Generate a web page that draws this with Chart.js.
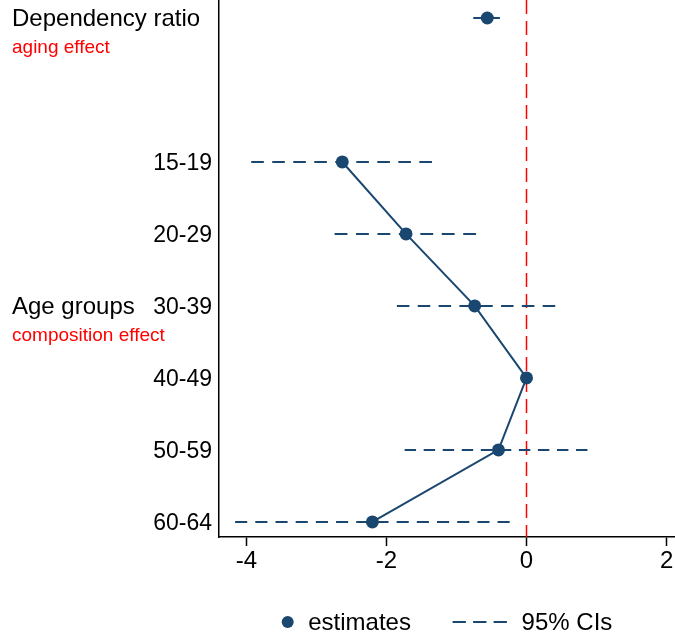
<!DOCTYPE html>
<html>
<head>
<meta charset="utf-8">
<script src="https://cdn.jsdelivr.net/npm/chart.js@4.4.0/dist/chart.umd.min.js"></script>
<style>
html, body { margin: 0; padding: 0; background: #fff; }
canvas { display: block; }
</style>
</head>
<body>
<canvas id="chart" width="675" height="637"></canvas>
<script>
// Age group rows (top to bottom)
const ageGroups = ['15-19', '20-29', '30-39', '40-49', '50-59', '60-64'];
const agePos = [6, 5, 4, 3, 2, 1];
const ageEst = [-2.63, -1.72, -0.74, 0, -0.40, -2.20];
const ageLow = [-3.93, -2.74, -1.85, null, -1.74, -4.16];
const ageHigh = [-1.35, -0.72, 0.41, null, 0.87, -0.24];

// Dependency ratio row
const depLabel = 'Dependency ratio';
const depNote = 'aging effect';
const depPos = 8;
const depEst = [-0.56];
const depLow = [-0.76];
const depHigh = [-0.38];

const groupLabel = 'Age groups';
const groupNote = 'composition effect';
const groupPos = 4;

const xTicks = [-4, -2, 0, 2];
const xMin = -4.39, xMax = 2.12;
const yMin = 0.79, yMax = 8.25;
const refX = 0;

const legendLabels = ['estimates', '95% CIs'];

const navy = '#1a476f';
const red = '#ff0000';
const FONT = "'Liberation Sans', Arial, sans-serif";

// CI rows, built from the arrays above
const ciRows = [{ pos: depPos, lo: depLow[0], hi: depHigh[0] }];
ageGroups.forEach((g, i) => {
    if (ageLow[i] !== null) ciRows.push({ pos: agePos[i], lo: ageLow[i], hi: ageHigh[i] });
});

// stretch the dash pattern a little so each CI line ends on a dash
function fitDash(ctx, lo, hi) {
    const x = ctx.chart.scales.x;
    if (!x) return [12, 8];
    const len = Math.abs(x.getPixelForValue(hi) - x.getPixelForValue(lo));
    const n = Math.max(0, Math.round(len / 20 - 0.6));
    const p = len / (n + 0.6);
    return [p * 0.6, p * 0.4];
}

const ciDatasets = ciRows.map(r => ({
    label: '95% CIs',
    data: [{ x: r.lo, y: r.pos }, { x: r.hi, y: r.pos }],
    showLine: true,
    borderColor: navy,
    borderWidth: 2,
    borderDash: ctx => fitDash(ctx, r.lo, r.hi),
    pointRadius: 0,
    order: 2
}));

const sideText = {
    id: 'sideText',
    afterDraw(chart) {
        const { ctx, scales: { y }, chartArea } = chart;
        ctx.save();
        ctx.textAlign = 'left';
        ctx.textBaseline = 'alphabetic';
        [[depLabel, depNote, depPos], [groupLabel, groupNote, groupPos]].forEach(([label, note, pos]) => {
            const py = y.getPixelForValue(pos);
            ctx.fillStyle = '#000';
            ctx.font = `24px ${FONT}`;
            ctx.fillText(label, 12, py + 8.5);
            ctx.fillStyle = red;
            ctx.font = `19px ${FONT}`;
            ctx.fillText(note, 12, py + 35);
        });

        // Legend
        ctx.font = `24px ${FONT}`;
        const w1 = ctx.measureText(legendLabels[0]).width;
        const w2 = ctx.measureText(legendLabels[1]).width;
        const total = 12 + 14.5 + w1 + 41.7 + 54.3 + 14.7 + w2;
        let lx = (chartArea.left + chartArea.right) / 2 - total / 2;
        const ly = chartArea.bottom + 85;
        ctx.fillStyle = navy;
        ctx.beginPath();
        ctx.arc(lx + 6, ly, 6, 0, Math.PI * 2);
        ctx.fill();
        lx += 12 + 14.5;
        ctx.fillStyle = '#000';
        ctx.fillText(legendLabels[0], lx, ly + 8);
        lx += w1 + 41.7;
        ctx.strokeStyle = navy;
        ctx.lineWidth = 2;
        ctx.setLineDash([13.3, 7.2]);
        ctx.beginPath();
        ctx.moveTo(lx, ly);
        ctx.lineTo(lx + 54.3, ly);
        ctx.stroke();
        ctx.setLineDash([]);
        lx += 54.3 + 14.7;
        ctx.fillText(legendLabels[1], lx, ly + 8);
        ctx.restore();
    }
};

new Chart(document.getElementById('chart'), {
    type: 'scatter',
    data: {
        datasets: [
            {
                label: 'estimates',
                data: ageEst.map((x, i) => ({ x: x, y: agePos[i] })),
                showLine: true,
                borderColor: navy,
                borderWidth: 2,
                pointRadius: 6.5,
                pointBackgroundColor: navy,
                pointBorderWidth: 0,
                order: 0
            },
            {
                label: 'estimates',
                data: depEst.map(x => ({ x: x, y: depPos })),
                showLine: false,
                pointRadius: 6.5,
                pointBackgroundColor: navy,
                pointBorderWidth: 0,
                order: 0
            },
            ...ciDatasets,
            {
                label: 'zero',
                data: [{ x: refX, y: yMax }, { x: refX, y: yMin }],
                showLine: true,
                borderColor: red,
                borderWidth: 1.5,
                borderDash: [14, 7],
                pointRadius: 0,
                order: 3
            }
        ]
    },
    options: {
        responsive: false,
        animation: false,
        devicePixelRatio: 1,
        clip: false,
        layout: { padding: 0, autoPadding: false },
        plugins: {
            legend: { display: false },
            tooltip: { enabled: false }
        },
        scales: {
            x: {
                type: 'linear',
                min: xMin,
                max: xMax,
                afterBuildTicks: s => { s.ticks = xTicks.map(v => ({ value: v })); },
                afterFit: s => { s.height = 100; s.paddingLeft = 0; s.paddingRight = 0; },
                grid: {
                    drawOnChartArea: false,
                    drawTicks: true,
                    tickLength: 9,
                    tickColor: '#000',
                    tickWidth: 1.5
                },
                border: { display: true, color: '#000', width: 1.5 },
                ticks: {
                    color: '#000',
                    font: { family: FONT, size: 24 },
                    padding: 1,
                    maxRotation: 0
                }
            },
            y: {
                type: 'linear',
                min: yMin,
                max: yMax,
                afterBuildTicks: s => { s.ticks = agePos.map(v => ({ value: v })); },
                afterFit: s => { s.width = 219; s.paddingTop = 0; s.paddingBottom = 0; },
                grid: { display: false, drawTicks: false },
                border: { display: true, color: '#000', width: 1.5 },
                ticks: {
                    color: '#000',
                    font: { family: FONT, size: 23 },
                    padding: 7,
                    labelOffset: 2,
                    callback: v => ageGroups[agePos.indexOf(v)]
                }
            }
        }
    },
    plugins: [sideText]
});
</script>
</body>
</html>
